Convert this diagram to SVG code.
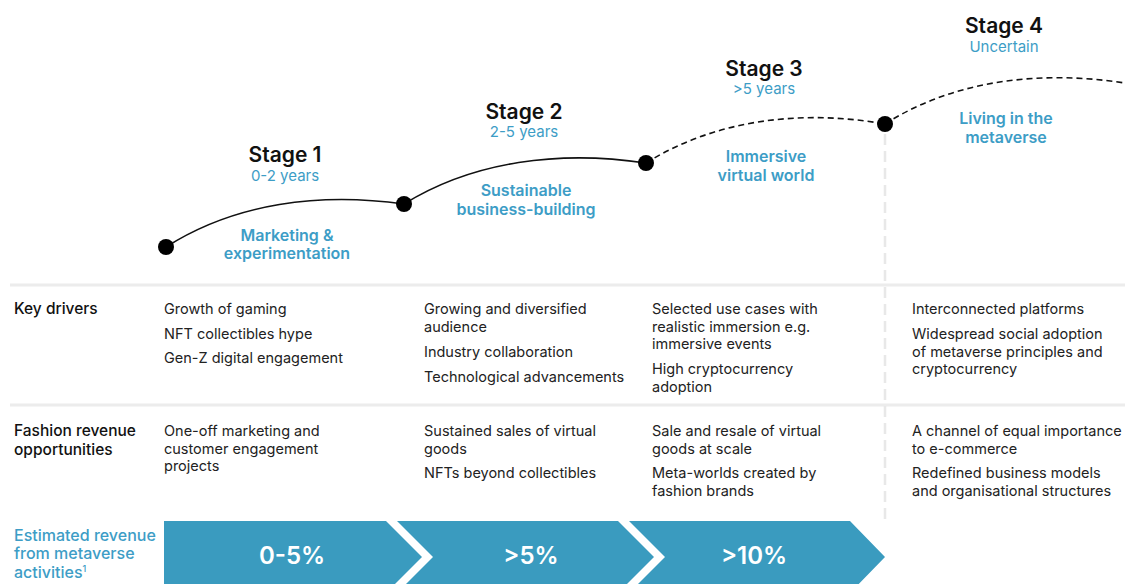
<svg xmlns="http://www.w3.org/2000/svg" width="1125" height="584" viewBox="0 0 1125 584">
<style>
text{font-family:Inter,"Noto Sans","Liberation Sans",sans-serif}
.stage{font-size:21px;font-weight:600;fill:#111;text-anchor:middle}
.sub{font-size:15px;fill:#3d9dc6;text-anchor:middle}
.phase{font-size:16px;font-weight:600;fill:#3d9dc6;text-anchor:middle}
.row{font-size:15.5px;font-weight:500;fill:#111}
.cell{font-size:14.5px;fill:#222}
.est{font-size:16px;font-weight:500;fill:#3d9dc6}
.pct{font-size:24px;font-weight:600;fill:#fff;text-anchor:middle}
.chev{fill:#3a9bbf}
.grid{stroke:#ececec;stroke-width:3;fill:none}
.solid{stroke:#111;stroke-width:1.6;fill:none}
.dash{stroke:#111;stroke-width:1.6;fill:none;stroke-dasharray:6 4}
.dot{fill:#000}
</style>
<g id="grid">
<line class="grid" x1="10" y1="285" x2="1125" y2="285"/>
<line class="grid" x1="10" y1="405" x2="1125" y2="405"/>
<line x1="885" y1="134" x2="885" y2="520" stroke="#e8e8e8" stroke-width="2.5" stroke-dasharray="11 6"/>
</g>
<g id="connectors">
<path class="solid" d="M166,247 C235,203 320,192 404,204"/>
<path class="solid" d="M404,204 C473,161 560,150 646,163"/>
<path class="dash" d="M646,163 C715,120 800,109 885,124"/>
<path class="dash" d="M885,124 C954,80 1040,70 1125,83"/>
</g>
<g id="stage1">
<circle class="dot" cx="166" cy="247" r="8"/>
<text class="stage" x="285" y="162">Stage 1</text>
<text class="sub" x="285" y="181">0-2 years</text>
<text class="phase" x="287" y="241">Marketing &amp;</text>
<text class="phase" x="287" y="259">experimentation</text>
</g>
<g id="stage2">
<circle class="dot" cx="404" cy="204" r="8"/>
<text class="stage" x="524" y="119">Stage 2</text>
<text class="sub" x="524" y="137">2-5 years</text>
<text class="phase" x="526" y="196">Sustainable</text>
<text class="phase" x="526" y="215">business-building</text>
</g>
<g id="stage3">
<circle class="dot" cx="646" cy="163" r="8"/>
<text class="stage" x="764" y="76">Stage 3</text>
<text class="sub" x="764" y="94">&gt;5 years</text>
<text class="phase" x="766" y="162">Immersive</text>
<text class="phase" x="766" y="181">virtual world</text>
</g>
<g id="stage4">
<circle class="dot" cx="885" cy="124" r="8"/>
<text class="stage" x="1004" y="33">Stage 4</text>
<text class="sub" x="1004" y="52">Uncertain</text>
<text class="phase" x="1006" y="124">Living in the</text>
<text class="phase" x="1006" y="143">metaverse</text>
</g>
<g id="key-drivers">
<text class="row" x="14" y="314">Key drivers</text>
<text class="cell" x="164" y="314">Growth of gaming</text>
<text class="cell" x="164" y="339">NFT collectibles hype</text>
<text class="cell" x="164" y="363">Gen-Z digital engagement</text>
<text class="cell" x="424" y="314">Growing and diversified</text>
<text class="cell" x="424" y="331.5">audience</text>
<text class="cell" x="424" y="356.5">Industry collaboration</text>
<text class="cell" x="424" y="381.5">Technological advancements</text>
<text class="cell" x="652" y="314">Selected use cases with</text>
<text class="cell" x="652" y="331.5">realistic immersion e.g.</text>
<text class="cell" x="652" y="349">immersive events</text>
<text class="cell" x="652" y="374">High cryptocurrency</text>
<text class="cell" x="652" y="391.5">adoption</text>
<text class="cell" x="912" y="314">Interconnected platforms</text>
<text class="cell" x="912" y="339">Widespread social adoption</text>
<text class="cell" x="912" y="356.5">of metaverse principles and</text>
<text class="cell" x="912" y="374">cryptocurrency</text>
</g>
<g id="revenue-opportunities">
<text class="row" x="14" y="436">Fashion revenue</text>
<text class="row" x="14" y="455">opportunities</text>
<text class="cell" x="164" y="436">One-off marketing and</text>
<text class="cell" x="164" y="453.5">customer engagement</text>
<text class="cell" x="164" y="471">projects</text>
<text class="cell" x="424" y="436">Sustained sales of virtual</text>
<text class="cell" x="424" y="453.5">goods</text>
<text class="cell" x="424" y="478">NFTs beyond collectibles</text>
<text class="cell" x="652" y="436">Sale and resale of virtual</text>
<text class="cell" x="652" y="453.5">goods at scale</text>
<text class="cell" x="652" y="478">Meta-worlds created by</text>
<text class="cell" x="652" y="496">fashion brands</text>
<text class="cell" x="912" y="436">A channel of equal importance</text>
<text class="cell" x="912" y="453.5">to e-commerce</text>
<text class="cell" x="912" y="478">Redefined business models</text>
<text class="cell" x="912" y="496">and organisational structures</text>
</g>
<g id="estimated-revenue">
<text class="est" x="14" y="541">Estimated revenue</text>
<text class="est" x="14" y="559">from metaverse</text>
<text class="est" x="14" y="578">activities<tspan font-size="9" dy="-6">1</tspan></text>
<path class="chev" d="M164,521 H386 L422,557 L386,593 H164 Z"/>
<path class="chev" d="M397,521 H618 L654,557 L618,593 H397 L433,557 Z"/>
<path class="chev" d="M629,521 H850 L885,557 L850,593 H629 L665,557 Z"/>
<text class="pct" x="292" y="564">0-5%</text>
<text class="pct" x="531" y="564">&gt;5%</text>
<text class="pct" x="754" y="564">&gt;10%</text>
</g>
</svg>
